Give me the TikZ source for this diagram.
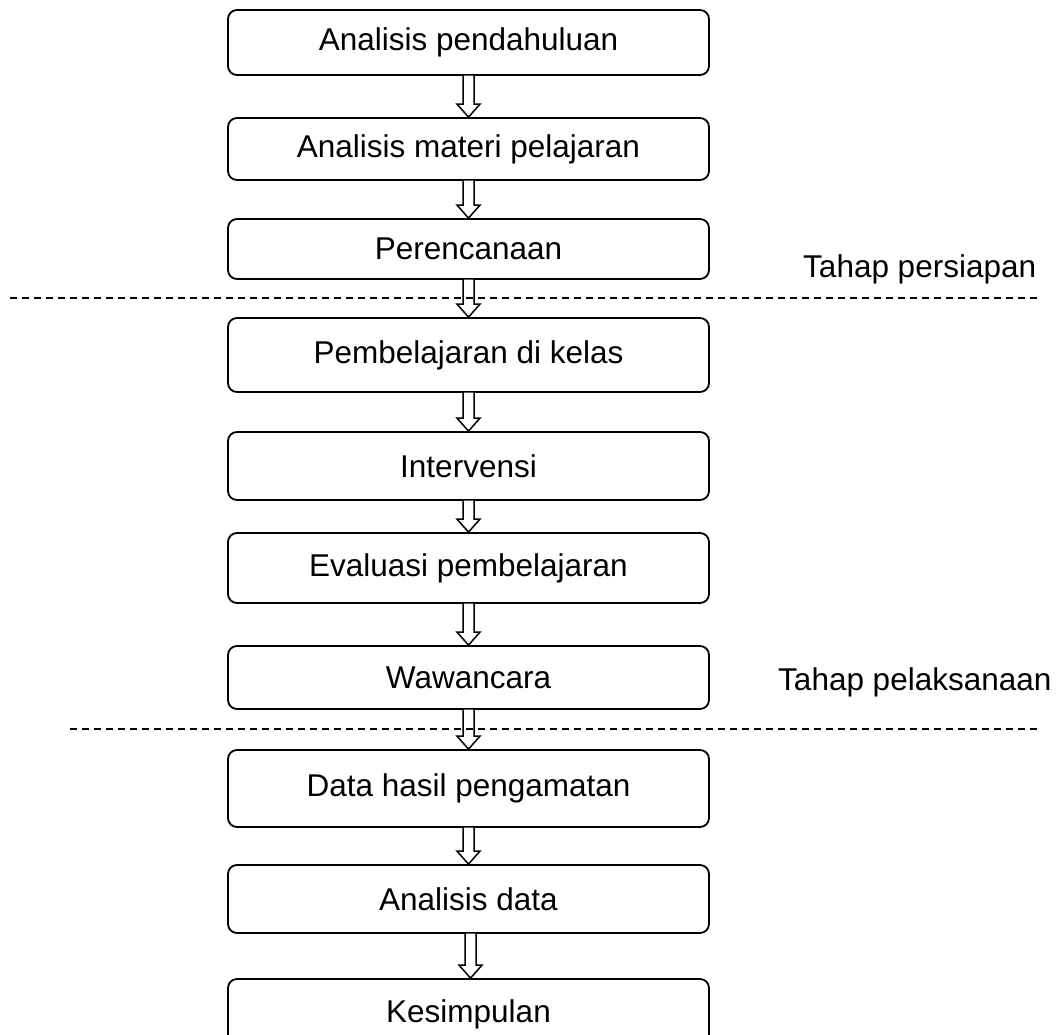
\documentclass[tikz,border=0pt]{standalone}
\usepackage{fontspec}
\setmainfont{Liberation Sans}
\usetikzlibrary{calc}
\newcommand\hollowarrow[3][0]{%
  \draw[hollowarr]
    ($(#2.south)+(#1-5.5,-1)$) -- ($(#3.north)+(#1-5.5,-13)$) --
    ($(#3.north)+(#1-11.5,-13)$) -- ($(#3.north)+(#1,0)$) --
    ($(#3.north)+(#1+11.5,-13)$) -- ($(#3.north)+(#1+5.5,-13)$) --
    ($(#2.south)+(#1+5.5,-1)$) -- cycle;}
\begin{document}
\begin{tikzpicture}[x=1pt,y=-1pt,
  flowbox/.style={draw, line width=1.8pt, rounded corners=9pt, minimum width=481pt,
    minimum height=#1, inner sep=0pt, font=\fontsize{31.5}{36}\selectfont},
  hollowarr/.style={draw, fill=white, line width=1.5pt, line join=miter},
  sep/.style={line width=1.5pt, dash pattern=on 7pt off 5pt},
  phase/.style={anchor=base west, inner sep=0pt, font=\fontsize{31.5}{36}\selectfont}]
\path[use as bounding box] (0,0) rectangle (1063,1034);
\clip (0,0) rectangle (1063,1034);
\node[flowbox=65pt] (b1) at (468.5,42.5) {Analisis pendahuluan};
\node[flowbox=62pt] (b2) at (468.5,149) {Analisis materi pelajaran};
\node[flowbox=60pt] (b3) at (468.5,249) {Perencanaan};
\node[flowbox=74pt] (b4) at (468.5,355) {Pembelajaran di kelas};
\node[flowbox=68pt] (b5) at (468.5,466) {Intervensi};
\node[flowbox=70pt] (b6) at (468.5,568) {Evaluasi pembelajaran};
\node[flowbox=63pt] (b7) at (468.5,677.5) {Wawancara};
\node[flowbox=77pt] (b8) at (468.5,788.5) {Data hasil pengamatan};
\node[flowbox=68pt] (b9) at (468.5,899) {Analisis data};
\node[flowbox=71pt] (b10) at (468.5,1014.5) {Kesimpulan};
\hollowarrow{b1}{b2}
\hollowarrow{b2}{b3}
\hollowarrow{b3}{b4}
\hollowarrow{b4}{b5}
\hollowarrow{b5}{b6}
\hollowarrow{b6}{b7}
\hollowarrow{b7}{b8}
\hollowarrow{b8}{b9}
\hollowarrow[2]{b9}{b10}
\coordinate (s1a) at (10,298);
\coordinate (s1b) at (1038,298);
\coordinate (s2a) at (70,729);
\coordinate (s2b) at (1038,729);
\draw[sep] (s1a) -- (s1b);
\draw[sep] (s2a) -- (s2b);
\node[phase] (p1) at (803,277) {Tahap persiapan};
\node[phase] (p2) at (778,690) {Tahap pelaksanaan};
\end{tikzpicture}
\end{document}
